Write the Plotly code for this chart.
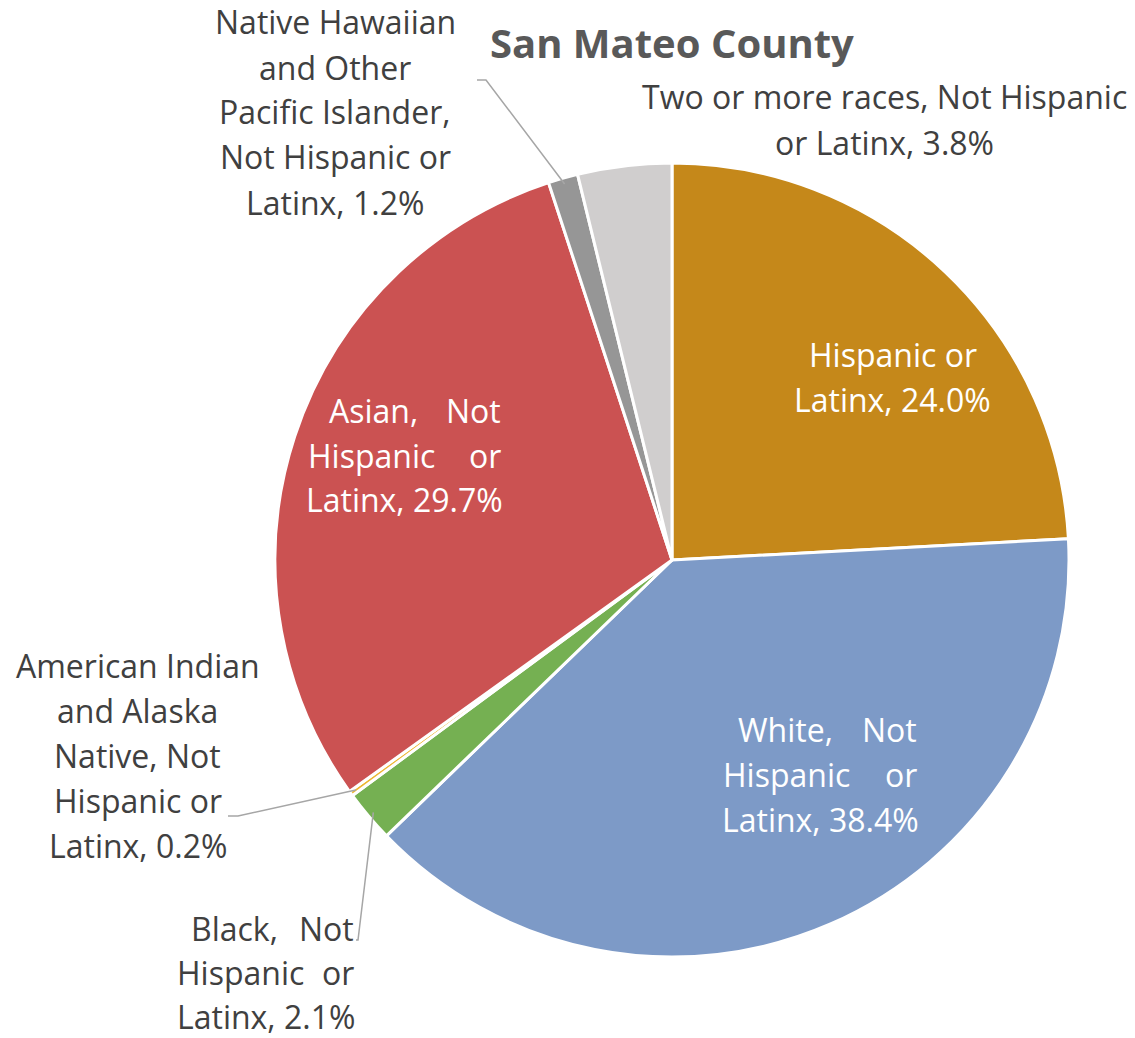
import math
import plotly.graph_objects as go

# ---------------- data ----------------
categories = [
    "Hispanic or Latinx",
    "White, Not Hispanic or Latinx",
    "Black, Not Hispanic or Latinx",
    "American Indian and Alaska Native, Not Hispanic or Latinx",
    "Asian, Not Hispanic or Latinx",
    "Native Hawaiian and Other Pacific Islander, Not Hispanic or Latinx",
    "Two or more races, Not Hispanic or Latinx",
]
values = [24.0, 38.4, 2.1, 0.2, 29.7, 1.2, 3.8]
title_text = "San Mateo County"

# label text lines (each line: either a string, or (left, right) for justified lines)
label_lines = [
    ["Hispanic or", "Latinx, 24.0%"],
    [("White,", "Not"), ("Hispanic", "or"), "Latinx, 38.4%"],
    [("Black,", "Not"), ("Hispanic", "or"), "Latinx, 2.1%"],
    ["American Indian", "and Alaska", "Native, Not", "Hispanic or", "Latinx, 0.2%"],
    [("Asian,", "Not"), ("Hispanic", "or"), "Latinx, 29.7%"],
    ["Native Hawaiian", "and Other", "Pacific Islander,", "Not Hispanic or", "Latinx, 1.2%"],
    ["Two or more races, Not Hispanic", "or Latinx, 3.8%"],
]

# ---------------- style / layout ----------------
W, H = 1135, 1038
CX, CY, R = 672, 560, 397
colors = ["#C5881A", "#7D9AC7", "#75B052", "#EDB631", "#CB5252", "#969696", "#D0CECE"]
DARK = "#404040"
FONT = "Open Sans"
FS = 32
LINE = 45

# per label: (x_left, x_right, y_first_line_center, color, line spacing)
label_box = [
    (793, 992, 354, "white", LINE),
    (722, 918, 729, "white", LINE),
    (176, 355, 928, DARK, 44),
    (13, 262, 665, DARK, LINE),
    (307, 502, 410, "white", LINE),
    (213, 457, 22, DARK, LINE),
    (640, 1128, 97, DARK, LINE),
]
first_line_indent = {1: 15, 2: 14, 4: 21}
# leader lines: label-side points (pixels); slice-side point computed from data
leaders = {
    3: [(228, 816), (238, 816)],
    2: [(356, 940), (358, 940)],
    5: [(477, 80), (486, 80)],
}


def px(x):
    return x / W


def py(y):
    return 1 - y / H


fig = go.Figure(
    go.Pie(
        labels=categories,
        values=values,
        sort=False,
        direction="clockwise",
        rotation=0,
        marker=dict(colors=colors, line=dict(color="white", width=3)),
        textinfo="none",
        hoverinfo="label+percent",
        domain=dict(x=[px(CX - R), px(CX + R)], y=[py(CY + R), py(CY - R)]),
        showlegend=False,
    )
)

annotations = []
shapes = []

# title
annotations.append(dict(
    x=px(CX), y=py(42), xref="paper", yref="paper", text="<b>%s</b>" % title_text,
    showarrow=False, xanchor="center", yanchor="middle",
    font=dict(family=FONT, size=40, color="#595959"),
))

for i, lines in enumerate(label_lines):
    xl, xr, y0, col, sp = label_box[i]
    for k, ln in enumerate(lines):
        y = py(y0 + k * sp)
        f = dict(family=FONT, size=FS, color=col)
        common = dict(y=y, xref="paper", yref="paper", showarrow=False, yanchor="middle",
                      font=f, borderpad=0)
        if isinstance(ln, tuple):
            left = xl + (first_line_indent.get(i, 0) if k == 0 else 0)
            annotations.append(dict(x=px(left), text=ln[0], xanchor="left", **common))
            annotations.append(dict(x=px(xr), text=ln[1], xanchor="right", **common))
        else:
            annotations.append(dict(x=px((xl + xr) / 2), text=ln, xanchor="center", **common))

# leader lines, slice end from data angles
total = sum(values)
cum = 0
mids = []
for v in values:
    mids.append((cum + v / 2) / total * 2 * math.pi)
    cum += v
for i, pts in leaders.items():
    a = mids[i]
    ex = CX + R * 0.985 * math.sin(a)
    ey = CY - R * 0.985 * math.cos(a)
    allpts = pts + [(ex, ey)]
    path = "M " + " L ".join("%f,%f" % (px(x), py(y)) for x, y in allpts)
    shapes.append(dict(type="path", path=path, xref="paper", yref="paper",
                       line=dict(color="#A6A6A6", width=1.5)))

fig.update_layout(
    width=W, height=H,
    margin=dict(l=0, r=0, t=0, b=0),
    paper_bgcolor="white",
    plot_bgcolor="white",
    annotations=annotations,
    shapes=shapes,
)

fig.write_html("out.html")
